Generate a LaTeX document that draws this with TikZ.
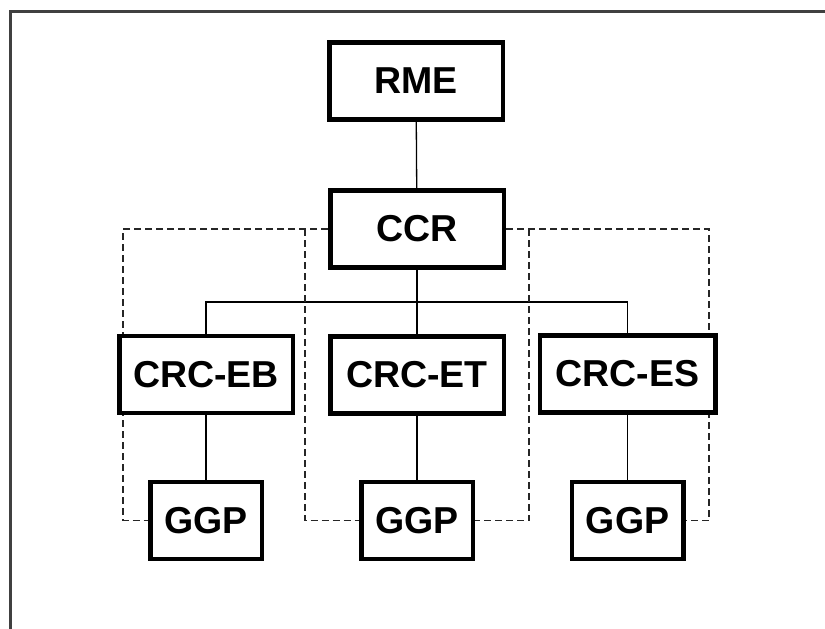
\documentclass[tikz,border=0pt]{standalone}
\usepackage{fontspec}
\setmainfont{Liberation Sans}
\usetikzlibrary{backgrounds}
\tikzset{
	unitbox/.style={draw, line width=4.5pt, fill=white, minimum width=173.5pt, minimum height=77pt, inner sep=0pt, font=\fontsize{37.5}{40}\selectfont\bfseries},
	ggpbox/.style={unitbox, minimum width=111.5pt},
	link/.style={line width=1.3pt},
	linkdash/.style={line width=1.3pt, dash pattern=on 7pt off 4pt, black!85},
	frame/.style={line width=3pt, color=black!75}
}

\begin{document}
\begin{tikzpicture}[x=1pt, y=-1pt]
		%%%%% START %%%%%
		\useasboundingbox (0, 0) rectangle (825, 629);
		\draw[frame] (10, 640) -- (10, 11) -- (840, 11);
		
		\node[unitbox] (RME) at (416, 81) {RME};
		\node[unitbox] (CCR) at (417, 229) {CCR};
		
		\node[unitbox] (CRCEB) at (206, 374.5) {CRC-EB};
		\node[unitbox] (CRCET) at (417, 375) {CRC-ET};
		\node[unitbox, minimum width=175.5pt] (CRCES) at (627.5, 374) {CRC-ES};
		
		\node[ggpbox] (GGPa) at (206, 520.5) {GGP};
		\node[ggpbox] (GGPb) at (417, 520.5) {GGP};
		\node[ggpbox] (GGPc) at (627.5, 520.5) {GGP};
		
		\coordinate (bus) at (417, 302);
		\coordinate (dl) at (123, 0);
		\coordinate (dml) at (305, 0);
		\coordinate (dmr) at (529, 0);
		\coordinate (dr) at (709, 0);
		
		\begin{pgfonlayer}{background}
		\draw[link] (RME) -- (CCR);
		\draw[link] (CCR) -- (CRCET);
		\draw[link] (CRCEB.north) |- (bus) -| (CRCES.north);
		\draw[link] (CRCEB) -- (GGPa);
		\draw[link] (CRCET) -- (GGPb);
		\draw[link] (CRCES) -- (GGPc);
		
		\draw[linkdash] (CCR.west) -| (dl |- GGPa.west) -- (GGPa.west);
		\draw[linkdash] (CCR.west -| dml) -- (dml |- GGPb.west) -- (GGPb.west);
		\draw[linkdash] (CCR.east -| dmr) -- (dmr |- GGPb.east) -- (GGPb.east);
		\draw[linkdash] (CCR.east) -| (dr |- GGPc.east) -- (GGPc.east);
		\end{pgfonlayer}
		%%%%% END %%%%%
\end{tikzpicture}
\end{document}
